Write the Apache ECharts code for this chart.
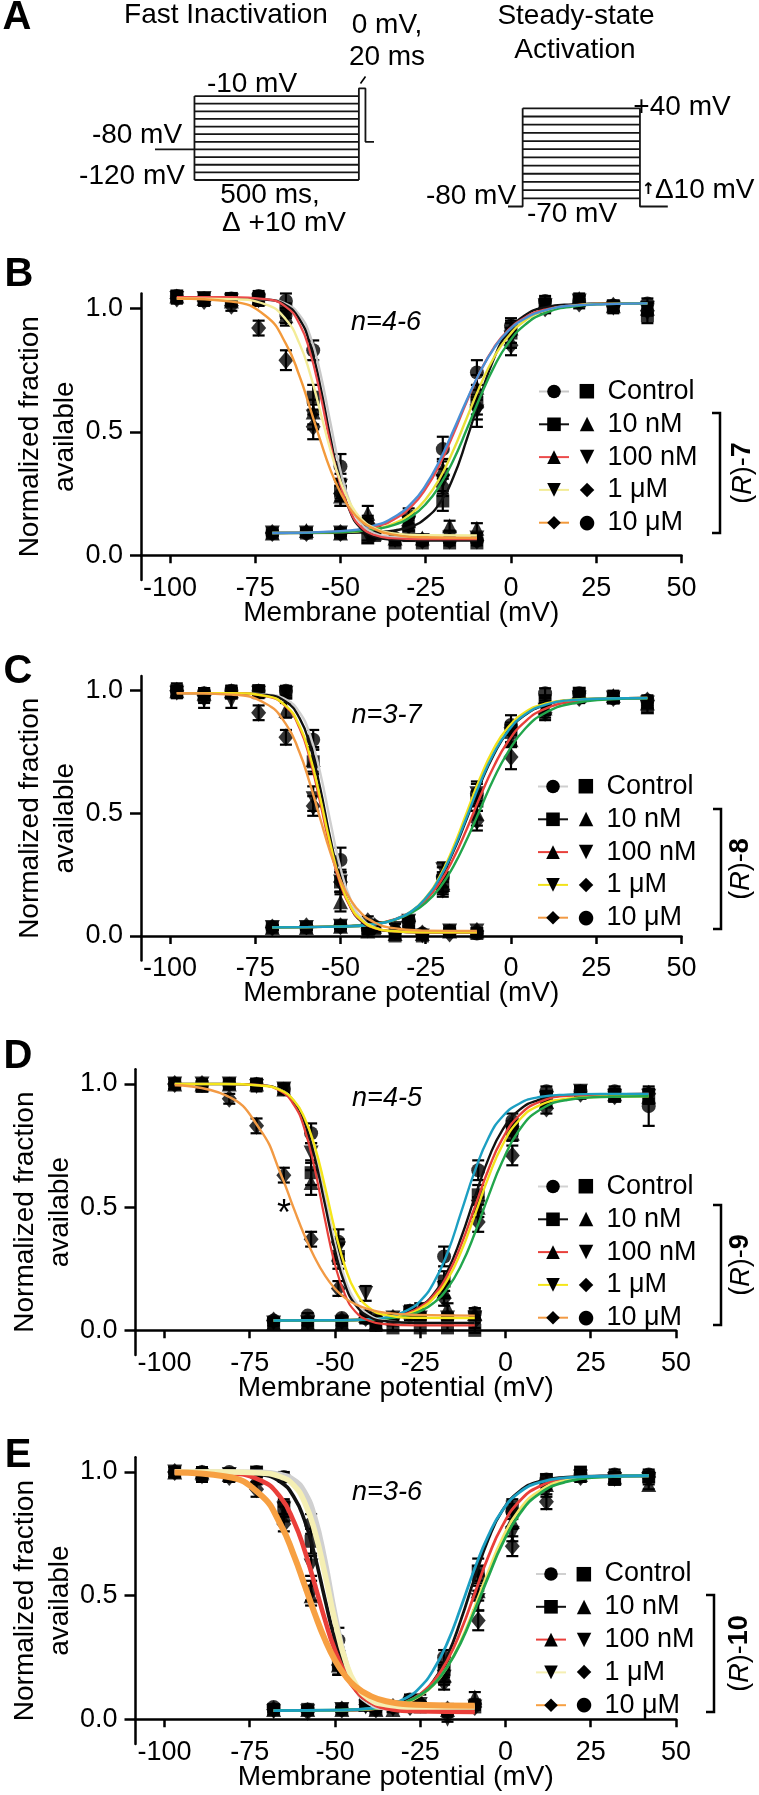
<!DOCTYPE html>
<html><head><meta charset="utf-8">
<script src="https://cdn.jsdelivr.net/npm/echarts@6/dist/echarts.min.js"></script>
<style>html,body{margin:0;padding:0;background:#fff}#c{width:759px;height:1795px}</style>
</head><body><div id="c"></div>
<script>
// ================= DATA =================
const concLabels = ['Control', '10 nM', '100 nM', '1 \u03bcM', '10 \u03bcM'];
const xTicks = [-100, -75, -50, -25, 0, 25, 50];
const yTicks = [0, 0.5, 1];

// Panel A voltage protocols (ms, mV)
const A_inTimes = [0, 120, 620, 640, 666];
const A_inHold = -80;
const A_inSteps = [-120, -110, -100, -90, -80, -70, -60, -50, -40, -30, -20, -10];
const A_inTest = 0;
const A_inAfter = -70;
const A_acTimes = [0, 50, 450, 545];
const A_acHold = -80;
const A_acSteps = [-70, -60, -50, -40, -30, -20, -10, 0, 10, 20, 30, 40];

// ---------- Panel B : (R)-7 ----------
const B_inX = [-98, -90, -82, -74, -66, -58, -50, -42, -34, -26, -18, -10];
const B_acX = [-70, -60, -50, -40, -30, -20, -10, 0, 10, 20, 30, 40];
const B_inCtrl = [1.05, 1.04, 1.04, 1.05, 1.03, 0.83, 0.36, 0.12, 0.07, 0.06, 0.06, 0.06];
const B_in10n = [1.05, 1.04, 1.04, 1.04, 0.99, 0.64, 0.26, 0.07, 0.05, 0.05, 0.05, 0.05];
const B_in100n = [1.05, 1.04, 1.03, 1.04, 0.97, 0.58, 0.24, 0.17, 0.07, 0.07, 0.12, 0.11];
const B_in1u = [1.04, 1.04, 1.03, 1.03, 0.96, 0.56, 0.28, 0.08, 0.06, 0.06, 0.07, 0.07];
const B_in10u = [1.04, 1.03, 1.01, 0.92, 0.79, 0.52, 0.25, 0.13, 0.07, 0.06, 0.06, 0.06];
const B_inCtrlE = [0.02, 0.02, 0.02, 0.02, 0.03, 0.04, 0.05, 0.03, 0.01, 0.01, 0.01, 0.01];
const B_in10nE = [0.02, 0.02, 0.02, 0.02, 0.03, 0.05, 0.04, 0.02, 0.01, 0.01, 0.01, 0.01];
const B_in100nE = [0.02, 0.02, 0.02, 0.02, 0.03, 0.05, 0.04, 0.03, 0.01, 0.01, 0.02, 0.02];
const B_in1uE = [0.02, 0.02, 0.02, 0.02, 0.03, 0.05, 0.05, 0.02, 0.01, 0.01, 0.01, 0.01];
const B_in10uE = [0.02, 0.02, 0.02, 0.03, 0.04, 0.05, 0.05, 0.03, 0.01, 0.01, 0.01, 0.01];
const B_acCtrl = [0.09, 0.09, 0.09, 0.08, 0.08, 0.22, 0.62, 0.90, 1.01, 1.03, 1.01, 0.97];
const B_ac10n = [0.09, 0.10, 0.09, 0.09, 0.14, 0.35, 0.68, 0.92, 1.02, 1.04, 1.01, 1.00];
const B_ac100n = [0.09, 0.09, 0.09, 0.09, 0.13, 0.30, 0.58, 0.88, 1.01, 1.03, 1.00, 1.00];
const B_ac1u = [0.09, 0.09, 0.09, 0.09, 0.12, 0.28, 0.60, 0.85, 1.00, 1.02, 1.01, 0.99];
const B_ac10u = [0.09, 0.09, 0.09, 0.10, 0.16, 0.43, 0.74, 0.93, 1.03, 1.03, 1.01, 1.02];
const B_acCtrlE = [0.01, 0.01, 0.01, 0.01, 0.02, 0.04, 0.05, 0.04, 0.02, 0.02, 0.02, 0.03];
const B_ac10nE = [0.01, 0.01, 0.01, 0.01, 0.02, 0.04, 0.05, 0.03, 0.02, 0.02, 0.02, 0.02];
const B_ac100nE = [0.01, 0.01, 0.01, 0.01, 0.02, 0.05, 0.06, 0.04, 0.02, 0.02, 0.02, 0.02];
const B_ac1uE = [0.01, 0.01, 0.01, 0.01, 0.02, 0.04, 0.05, 0.04, 0.02, 0.02, 0.02, 0.02];
const B_ac10uE = [0.01, 0.01, 0.01, 0.01, 0.03, 0.05, 0.05, 0.03, 0.02, 0.02, 0.02, 0.02];
// fitted curves
const B_cInX = [-98, -82, -72, -66, -62, -59, -56, -53, -50, -47, -44, -40, -35, -26, -10];
const B_cAcX = [-70, -50, -40, -34, -29, -25, -21, -17, -13, -9, -5, -1, 4, 10, 18, 28, 40];
const B_fitInCtrl = [1.04, 1.04, 1.036, 1.018, 0.972, 0.892, 0.743, 0.540, 0.342, 0.205, 0.130, 0.089, 0.075, 0.070, 0.070];
const B_fitIn10n = [1.04, 1.04, 1.035, 1.012, 0.955, 0.857, 0.690, 0.479, 0.290, 0.171, 0.109, 0.076, 0.064, 0.060, 0.060];
const B_fitIn100n = [1.045, 1.045, 1.037, 1.006, 0.936, 0.826, 0.656, 0.454, 0.284, 0.174, 0.115, 0.082, 0.069, 0.065, 0.065];
const B_fitIn1u = [1.04, 1.037, 1.016, 0.955, 0.856, 0.739, 0.586, 0.429, 0.299, 0.206, 0.149, 0.110, 0.090, 0.081, 0.080];
const B_fitIn10u = [1.04, 1.027, 0.970, 0.856, 0.725, 0.599, 0.469, 0.348, 0.254, 0.185, 0.140, 0.106, 0.085, 0.073, 0.070];
const B_fitAcCtrl = [0.09, 0.091, 0.094, 0.101, 0.118, 0.150, 0.209, 0.313, 0.468, 0.642, 0.797, 0.901, 0.971, 1.004, 1.016, 1.02, 1.02];
const B_fitAc10n = [0.09, 0.096, 0.115, 0.148, 0.201, 0.270, 0.366, 0.488, 0.622, 0.744, 0.841, 0.909, 0.962, 0.995, 1.012, 1.018, 1.02];
const B_fitAc100n = [0.09, 0.094, 0.107, 0.131, 0.171, 0.227, 0.309, 0.422, 0.555, 0.688, 0.801, 0.883, 0.949, 0.989, 1.011, 1.018, 1.02];
const B_fitAc1u = [0.09, 0.094, 0.105, 0.124, 0.159, 0.207, 0.280, 0.382, 0.509, 0.642, 0.762, 0.855, 0.932, 0.981, 1.007, 1.017, 1.02];
const B_fitAc10u = [0.09, 0.098, 0.121, 0.157, 0.213, 0.284, 0.382, 0.502, 0.628, 0.744, 0.838, 0.906, 0.958, 0.992, 1.011, 1.017, 1.02];

// ---------- Panel C : (R)-8 ----------
const C_inX = [-98, -90, -82, -74, -66, -58, -50, -42, -34, -26, -18, -10];
const C_acX = [-70, -60, -50, -40, -30, -20, -10, 0, 10, 20, 30, 40];
const C_inCtrl = [1.0, 0.99, 1.0, 1.0, 1.0, 0.80, 0.31, 0.03, 0.02, 0.01, 0.02, 0.01];
const C_in10n = [1.0, 0.98, 0.99, 1.0, 0.99, 0.71, 0.22, 0.03, 0.00, 0.00, 0.02, 0.01];
const C_in100n = [1.0, 0.99, 1.0, 1.0, 0.92, 0.72, 0.14, 0.02, 0.01, 0.01, 0.02, 0.02];
const C_in1u = [0.99, 0.96, 0.96, 0.99, 0.99, 0.56, 0.22, 0.02, 0.03, 0.00, 0.02, 0.02];
const C_in10u = [1.0, 0.98, 0.99, 0.91, 0.81, 0.53, 0.22, 0.06, 0.02, 0.01, 0.01, 0.02];
const C_inCtrlE = [0.02, 0.02, 0.02, 0.02, 0.02, 0.04, 0.05, 0.01, 0.01, 0.01, 0.01, 0.01];
const C_in10nE = [0.03, 0.03, 0.02, 0.02, 0.02, 0.05, 0.04, 0.01, 0.01, 0.01, 0.01, 0.01];
const C_in100nE = [0.02, 0.02, 0.02, 0.02, 0.03, 0.05, 0.04, 0.01, 0.01, 0.01, 0.01, 0.01];
const C_in1uE = [0.02, 0.03, 0.03, 0.02, 0.02, 0.05, 0.05, 0.01, 0.02, 0.01, 0.01, 0.01];
const C_in10uE = [0.02, 0.02, 0.02, 0.03, 0.03, 0.04, 0.04, 0.02, 0.01, 0.01, 0.01, 0.01];
const C_acCtrl = [0.035, 0.035, 0.04, 0.03, 0.05, 0.22, 0.55, 0.83, 0.96, 0.99, 0.97, 0.93];
const C_ac10n = [0.035, 0.035, 0.04, 0.04, 0.05, 0.21, 0.50, 0.80, 0.93, 0.98, 0.98, 0.95];
const C_ac100n = [0.035, 0.035, 0.04, 0.03, 0.06, 0.27, 0.58, 0.82, 0.92, 0.97, 0.97, 0.95];
const C_ac1u = [0.035, 0.04, 0.04, 0.04, 0.06, 0.19, 0.47, 0.73, 0.91, 0.97, 0.97, 0.96];
const C_ac10u = [0.035, 0.035, 0.04, 0.04, 0.06, 0.24, 0.58, 0.86, 0.99, 0.99, 0.97, 0.96];
const C_acCtrlE = [0.01, 0.01, 0.01, 0.01, 0.02, 0.04, 0.04, 0.04, 0.02, 0.02, 0.02, 0.02];
const C_ac10nE = [0.01, 0.01, 0.01, 0.01, 0.02, 0.04, 0.05, 0.03, 0.03, 0.02, 0.02, 0.02];
const C_ac100nE = [0.01, 0.01, 0.01, 0.01, 0.02, 0.03, 0.05, 0.04, 0.03, 0.02, 0.02, 0.02];
const C_ac1uE = [0.01, 0.01, 0.01, 0.01, 0.02, 0.03, 0.04, 0.05, 0.03, 0.02, 0.02, 0.02];
const C_ac10uE = [0.01, 0.01, 0.01, 0.01, 0.02, 0.04, 0.04, 0.04, 0.02, 0.02, 0.02, 0.02];
const C_cInX = [-98, -82, -72, -66, -62, -59, -56, -53, -50, -47, -44, -40, -35, -26, -10];
const C_cAcX = [-70, -50, -40, -34, -29, -25, -21, -17, -13, -9, -5, -1, 4, 10, 18, 28, 40];
const C_fitInCtrl = [0.99, 0.99, 0.985, 0.964, 0.911, 0.822, 0.668, 0.468, 0.277, 0.147, 0.075, 0.035, 0.020, 0.015, 0.015];
const C_fitIn10n = [0.99, 0.99, 0.983, 0.955, 0.888, 0.779, 0.606, 0.399, 0.226, 0.117, 0.061, 0.031, 0.019, 0.015, 0.015];
const C_fitIn100n = [0.99, 0.99, 0.978, 0.935, 0.847, 0.722, 0.546, 0.358, 0.209, 0.114, 0.063, 0.032, 0.020, 0.015, 0.015];
const C_fitIn1u = [0.99, 0.99, 0.979, 0.938, 0.856, 0.737, 0.566, 0.377, 0.221, 0.120, 0.067, 0.033, 0.020, 0.015, 0.015];
const C_fitIn10u = [0.99, 0.984, 0.948, 0.864, 0.748, 0.623, 0.481, 0.342, 0.228, 0.146, 0.094, 0.055, 0.033, 0.022, 0.020];
const C_fitAcCtrl = [0.035, 0.038, 0.048, 0.067, 0.101, 0.152, 0.229, 0.341, 0.477, 0.619, 0.740, 0.831, 0.900, 0.941, 0.962, 0.968, 0.97];
const C_fitAc10n = [0.035, 0.039, 0.050, 0.069, 0.101, 0.146, 0.215, 0.313, 0.435, 0.570, 0.692, 0.790, 0.872, 0.926, 0.955, 0.966, 0.97];
const C_fitAc100n = [0.035, 0.038, 0.048, 0.067, 0.103, 0.157, 0.240, 0.359, 0.503, 0.646, 0.765, 0.848, 0.911, 0.947, 0.963, 0.968, 0.97];
const C_fitAc1u = [0.035, 0.039, 0.049, 0.067, 0.096, 0.135, 0.195, 0.281, 0.392, 0.518, 0.643, 0.747, 0.843, 0.909, 0.948, 0.964, 0.969];
const C_fitAc10u = [0.035, 0.038, 0.048, 0.068, 0.103, 0.155, 0.234, 0.347, 0.484, 0.626, 0.746, 0.833, 0.902, 0.942, 0.962, 0.968, 0.97];

// ---------- Panel D : (R)-9 ----------
const D_inX = [-97, -89, -81, -73, -65, -57, -49, -41, -33, -25, -17, -9];
const D_acX = [-68, -58, -48, -38, -28, -18, -8, 2, 12, 22, 32, 42];
const D_inCtrl = [1.0, 1.0, 1.0, 1.0, 0.98, 0.80, 0.36, 0.05, 0.05, 0.05, 0.05, 0.07];
const D_in10n = [1.0, 0.99, 1.0, 1.0, 0.98, 0.64, 0.30, 0.05, 0.01, 0.01, 0.01, 0.00];
const D_in100n = [1.0, 1.0, 1.0, 1.0, 0.98, 0.60, 0.31, 0.06, 0.05, 0.09, 0.09, 0.07];
const D_in1u = [1.0, 1.0, 1.0, 0.99, 0.98, 0.72, 0.33, 0.15, 0.05, 0.05, 0.05, 0.05];
const D_in10u = [1.0, 1.0, 0.94, 0.83, 0.63, 0.37, 0.17, 0.05, 0.05, 0.05, 0.05, 0.04];
const D_inCtrlE = [0.02, 0.02, 0.01, 0.01, 0.02, 0.04, 0.05, 0.02, 0.01, 0.01, 0.01, 0.02];
const D_in10nE = [0.02, 0.02, 0.02, 0.02, 0.02, 0.05, 0.05, 0.01, 0.01, 0.01, 0.01, 0.01];
const D_in100nE = [0.02, 0.02, 0.02, 0.02, 0.02, 0.05, 0.04, 0.02, 0.02, 0.02, 0.02, 0.02];
const D_in1uE = [0.02, 0.02, 0.02, 0.02, 0.02, 0.04, 0.04, 0.03, 0.01, 0.01, 0.01, 0.01];
const D_in10uE = [0.02, 0.02, 0.02, 0.03, 0.03, 0.03, 0.03, 0.01, 0.01, 0.01, 0.01, 0.01];
const D_acCtrl = [0.03, 0.03, 0.03, 0.02, 0.07, 0.20, 0.55, 0.82, 0.95, 0.97, 0.95, 0.95];
const D_ac10n = [0.03, 0.03, 0.03, 0.03, 0.08, 0.16, 0.50, 0.80, 0.93, 0.97, 0.96, 0.95];
const D_ac100n = [0.03, 0.03, 0.03, 0.03, 0.07, 0.17, 0.50, 0.80, 0.94, 0.97, 0.95, 0.95];
const D_ac1u = [0.04, 0.04, 0.04, 0.03, 0.06, 0.13, 0.44, 0.71, 0.90, 0.96, 0.95, 0.96];
const D_ac10u = [0.04, 0.06, 0.05, 0.05, 0.08, 0.30, 0.65, 0.85, 0.97, 0.97, 0.97, 0.91];
const D_acCtrlE = [0.01, 0.01, 0.01, 0.01, 0.02, 0.04, 0.04, 0.03, 0.02, 0.02, 0.02, 0.03];
const D_ac10nE = [0.01, 0.01, 0.01, 0.01, 0.02, 0.03, 0.04, 0.03, 0.02, 0.02, 0.02, 0.03];
const D_ac100nE = [0.01, 0.01, 0.01, 0.01, 0.02, 0.03, 0.04, 0.03, 0.02, 0.02, 0.02, 0.02];
const D_ac1uE = [0.01, 0.01, 0.01, 0.01, 0.02, 0.03, 0.04, 0.04, 0.02, 0.02, 0.02, 0.02];
const D_ac10uE = [0.01, 0.01, 0.01, 0.01, 0.02, 0.04, 0.04, 0.03, 0.02, 0.02, 0.02, 0.08];
const D_cInX = [-97, -82, -72, -66, -62, -59, -56, -53, -50, -47, -44, -40, -35, -26, -9];
const D_cAcX = [-68, -50, -40, -34, -29, -25, -21, -17, -13, -9, -5, -1, 4, 10, 18, 28, 42];
const D_fitInCtrl = [1.0, 1.0, 0.995, 0.976, 0.931, 0.857, 0.729, 0.549, 0.356, 0.208, 0.118, 0.062, 0.039, 0.030, 0.030];
const D_fitIn10n = [1.0, 1.0, 0.995, 0.975, 0.926, 0.847, 0.705, 0.515, 0.325, 0.183, 0.104, 0.055, 0.037, 0.030, 0.030];
const D_fitIn100n = [1.0, 1.0, 0.995, 0.971, 0.914, 0.820, 0.659, 0.454, 0.267, 0.143, 0.076, 0.039, 0.025, 0.020, 0.020];
const D_fitIn1u = [1.0, 1.0, 0.994, 0.975, 0.932, 0.864, 0.750, 0.587, 0.406, 0.257, 0.158, 0.092, 0.062, 0.051, 0.050];
const D_fitIn10u = [0.995, 0.954, 0.816, 0.638, 0.492, 0.387, 0.297, 0.224, 0.169, 0.131, 0.106, 0.085, 0.071, 0.063, 0.060];
const D_fitAcCtrl = [0.04, 0.041, 0.044, 0.052, 0.069, 0.096, 0.149, 0.241, 0.377, 0.541, 0.696, 0.811, 0.894, 0.936, 0.954, 0.958, 0.96];
const D_fitAc10n = [0.04, 0.041, 0.044, 0.052, 0.069, 0.095, 0.143, 0.225, 0.347, 0.500, 0.653, 0.775, 0.872, 0.927, 0.952, 0.958, 0.96];
const D_fitAc100n = [0.04, 0.041, 0.044, 0.051, 0.065, 0.088, 0.132, 0.206, 0.320, 0.468, 0.621, 0.749, 0.853, 0.913, 0.940, 0.948, 0.95];
const D_fitAc1u = [0.04, 0.041, 0.043, 0.049, 0.060, 0.078, 0.112, 0.171, 0.264, 0.394, 0.545, 0.683, 0.812, 0.894, 0.935, 0.947, 0.95];
const D_fitAc10u = [0.04, 0.041, 0.045, 0.056, 0.080, 0.119, 0.195, 0.315, 0.480, 0.646, 0.781, 0.866, 0.920, 0.947, 0.957, 0.96, 0.96];

// ---------- Panel E : (R)-10 ----------
const E_inX = [-97, -89, -81, -73, -65, -57, -49, -41, -33, -25, -17, -9];
const E_acX = [-68, -58, -48, -38, -28, -18, -8, 2, 12, 22, 32, 42];
const E_inCtrl = [1.0, 1.0, 1.0, 1.0, 0.98, 0.79, 0.32, 0.07, 0.05, 0.06, 0.04, 0.06];
const E_in10n = [1.0, 0.99, 0.99, 1.0, 0.86, 0.72, 0.22, 0.06, 0.05, 0.05, 0.04, 0.05];
const E_in100n = [1.0, 1.0, 0.99, 0.98, 0.83, 0.50, 0.22, 0.06, 0.04, 0.08, 0.04, 0.09];
const E_in1u = [1.0, 0.98, 0.99, 0.97, 0.85, 0.62, 0.25, 0.05, 0.04, 0.06, 0.00, 0.05];
const E_in10u = [1.0, 0.99, 0.98, 0.93, 0.79, 0.52, 0.22, 0.06, 0.05, 0.06, 0.04, 0.05];
const E_inCtrlE = [0.02, 0.01, 0.01, 0.01, 0.02, 0.04, 0.05, 0.02, 0.01, 0.01, 0.01, 0.02];
const E_in10nE = [0.02, 0.02, 0.01, 0.02, 0.03, 0.05, 0.04, 0.01, 0.01, 0.01, 0.01, 0.01];
const E_in100nE = [0.02, 0.02, 0.02, 0.02, 0.03, 0.04, 0.04, 0.01, 0.01, 0.02, 0.01, 0.02];
const E_in1uE = [0.02, 0.02, 0.02, 0.02, 0.03, 0.04, 0.04, 0.01, 0.01, 0.01, 0.01, 0.01];
const E_in10uE = [0.02, 0.02, 0.02, 0.03, 0.03, 0.04, 0.04, 0.02, 0.01, 0.01, 0.01, 0.01];
const E_acCtrl = [0.04, 0.04, 0.04, 0.04, 0.07, 0.20, 0.60, 0.86, 0.97, 1.00, 0.97, 0.98];
const E_ac10n = [0.04, 0.04, 0.04, 0.04, 0.07, 0.18, 0.52, 0.80, 0.95, 0.99, 0.98, 0.95];
const E_ac100n = [0.03, 0.03, 0.04, 0.04, 0.06, 0.17, 0.48, 0.75, 0.92, 0.98, 0.97, 0.97];
const E_ac1u = [0.04, 0.03, 0.04, 0.04, 0.05, 0.15, 0.40, 0.70, 0.88, 0.98, 0.98, 0.98];
const E_ac10u = [0.05, 0.04, 0.04, 0.05, 0.08, 0.25, 0.58, 0.84, 0.97, 0.99, 0.99, 0.99];
const E_acCtrlE = [0.01, 0.01, 0.01, 0.01, 0.02, 0.03, 0.05, 0.03, 0.02, 0.02, 0.02, 0.02];
const E_ac10nE = [0.01, 0.01, 0.01, 0.01, 0.02, 0.03, 0.04, 0.03, 0.02, 0.02, 0.02, 0.02];
const E_ac100nE = [0.01, 0.01, 0.01, 0.01, 0.02, 0.03, 0.04, 0.03, 0.02, 0.02, 0.02, 0.02];
const E_ac1uE = [0.01, 0.01, 0.01, 0.01, 0.02, 0.03, 0.04, 0.04, 0.03, 0.02, 0.02, 0.02];
const E_ac10uE = [0.01, 0.01, 0.01, 0.01, 0.02, 0.03, 0.04, 0.03, 0.02, 0.02, 0.02, 0.02];
const E_cInX = [-97, -82, -72, -66, -62, -59, -56, -53, -50, -47, -44, -40, -35, -26, -9];
const E_cAcX = [-68, -50, -40, -34, -29, -25, -21, -17, -13, -9, -5, -1, 4, 10, 18, 28, 42];
const E_fitInCtrl = [1.0, 1.0, 0.999, 0.990, 0.967, 0.921, 0.820, 0.644, 0.423, 0.240, 0.129, 0.068, 0.046, 0.040, 0.040];
const E_fitIn10n = [1.0, 0.999, 0.990, 0.960, 0.898, 0.807, 0.666, 0.489, 0.321, 0.197, 0.122, 0.072, 0.050, 0.041, 0.040];
const E_fitIn100n = [1.0, 0.995, 0.967, 0.898, 0.798, 0.687, 0.549, 0.405, 0.279, 0.185, 0.121, 0.074, 0.046, 0.033, 0.030];
const E_fitIn1u = [1.0, 1.0, 0.996, 0.981, 0.945, 0.880, 0.764, 0.591, 0.396, 0.239, 0.143, 0.083, 0.059, 0.050, 0.050];
const E_fitIn10u = [0.998, 0.982, 0.910, 0.789, 0.661, 0.546, 0.430, 0.324, 0.239, 0.176, 0.132, 0.097, 0.073, 0.059, 0.055];
const E_fitAcCtrl = [0.035, 0.036, 0.039, 0.048, 0.067, 0.099, 0.158, 0.258, 0.405, 0.574, 0.729, 0.842, 0.921, 0.963, 0.979, 0.984, 0.985];
const E_fitAc10n = [0.035, 0.036, 0.041, 0.052, 0.071, 0.102, 0.155, 0.240, 0.361, 0.510, 0.659, 0.780, 0.881, 0.942, 0.973, 0.982, 0.985];
const E_fitAc100n = [0.035, 0.036, 0.041, 0.051, 0.068, 0.096, 0.140, 0.214, 0.320, 0.456, 0.599, 0.729, 0.846, 0.924, 0.967, 0.981, 0.985];
const E_fitAc1u = [0.035, 0.037, 0.042, 0.053, 0.071, 0.098, 0.142, 0.213, 0.313, 0.442, 0.578, 0.707, 0.828, 0.913, 0.961, 0.979, 0.985];
const E_fitAc10u = [0.035, 0.037, 0.044, 0.059, 0.087, 0.130, 0.203, 0.311, 0.456, 0.611, 0.744, 0.843, 0.917, 0.958, 0.977, 0.983, 0.985];

// ================= STYLE / LAYOUT =================
const FONT = '"Liberation Sans", Arial, Helvetica, sans-serif';
const ITRI = 'path://M0,0L10,0L5,9Z';
const inSym = ['circle', 'rect', 'triangle', ITRI, 'diamond'];
const inSize = [14, 13, 15, 15, [15, 18]];
const acSym = ['rect', 'triangle', ITRI, 'diamond', 'circle'];
const acSize = [13, 15, 15, [15, 18], 14];
const acGlyph = ['\u25A0', '\u25B2', '\u25BC', '\u25C6', '\u25CF'];
const SMOOTH = 0.5;

const panels = [
  { id: 'B', tag: '7', grid: { left: 141, top: 293.5, width: 540.5, height: 286.5 },
    inX: B_inX, acX: B_acX, inY: [B_inCtrl, B_in10n, B_in100n, B_in1u, B_in10u],
    inE: [B_inCtrlE, B_in10nE, B_in100nE, B_in1uE, B_in10uE],
    acY: [B_acCtrl, B_ac10n, B_ac100n, B_ac1u, B_ac10u],
    acE: [B_acCtrlE, B_ac10nE, B_ac100nE, B_ac1uE, B_ac10uE],
    cInX: B_cInX, cAcX: B_cAcX,
    fitIn: [B_fitInCtrl, B_fitIn10n, B_fitIn100n, B_fitIn1u, B_fitIn10u],
    fitAc: [B_fitAcCtrl, B_fitAc10n, B_fitAc100n, B_fitAc1u, B_fitAc10u],
    inCol: ['#c8c8c8', '#111111', '#ec4b4b', '#f3ec98', '#f39a3b'],
    acCol: ['#111111', '#ec4b4b', '#e9e03a', '#22a64c', '#4a90d6'],
    inW: [2.4, 2.4, 2.2, 2.4, 2.4], acW: 2.4,
    legend: { left: 538, top: 376.5 }, bracket: { x: 720, top: 413, bottom: 533, tx: 743 },
    n: { text: 'n=4-6', x: 386, y: 322 }, letter: { x: 19, y: 275 } },
  { id: 'C', tag: '8', grid: { left: 141, top: 676, width: 540.5, height: 284.5 },
    inX: C_inX, acX: C_acX, inY: [C_inCtrl, C_in10n, C_in100n, C_in1u, C_in10u],
    inE: [C_inCtrlE, C_in10nE, C_in100nE, C_in1uE, C_in10uE],
    acY: [C_acCtrl, C_ac10n, C_ac100n, C_ac1u, C_ac10u],
    acE: [C_acCtrlE, C_ac10nE, C_ac100nE, C_ac1uE, C_ac10uE],
    cInX: C_cInX, cAcX: C_cAcX,
    fitIn: [C_fitInCtrl, C_fitIn10n, C_fitIn100n, C_fitIn1u, C_fitIn10u],
    fitAc: [C_fitAcCtrl, C_fitAc10n, C_fitAc100n, C_fitAc1u, C_fitAc10u],
    inCol: ['#cfcfcf', '#111111', '#e8403a', '#f2e21b', '#f29a44'],
    acCol: ['#111111', '#e8403a', '#f2e21b', '#22a64c', '#1c9fc2'],
    inW: [2.4, 2.4, 2.2, 2.4, 2.4], acW: 2.4,
    legend: { left: 537, top: 771.5 }, bracket: { x: 721, top: 809, bottom: 929, tx: 741 },
    n: { text: 'n=3-7', x: 386.5, y: 715 }, letter: { x: 18, y: 672 } },
  { id: 'D', tag: '9', grid: { left: 135.5, top: 1069.2, width: 540.5, height: 285.8 },
    inX: D_inX, acX: D_acX, inY: [D_inCtrl, D_in10n, D_in100n, D_in1u, D_in10u],
    inE: [D_inCtrlE, D_in10nE, D_in100nE, D_in1uE, D_in10uE],
    acY: [D_acCtrl, D_ac10n, D_ac100n, D_ac1u, D_ac10u],
    acE: [D_acCtrlE, D_ac10nE, D_ac100nE, D_ac1uE, D_ac10uE],
    cInX: D_cInX, cAcX: D_cAcX,
    fitIn: [D_fitInCtrl, D_fitIn10n, D_fitIn100n, D_fitIn1u, D_fitIn10u],
    fitAc: [D_fitAcCtrl, D_fitAc10n, D_fitAc100n, D_fitAc1u, D_fitAc10u],
    inCol: ['#d2d2d2', '#111111', '#e8403a', '#f5e61a', '#f29a44'],
    acCol: ['#111111', '#e8403a', '#f2e21b', '#22a64c', '#1c9fc2'],
    inW: [2.4, 2.4, 2.2, 2.4, 2.4], acW: 2.4,
    legend: { left: 537, top: 1171.5 }, bracket: { x: 721, top: 1205, bottom: 1325, tx: 741 },
    n: { text: 'n=4-5', x: 387, y: 1098 }, letter: { x: 18, y: 1057 } },
  { id: 'E', tag: '10', grid: { left: 135.5, top: 1457.2, width: 540.5, height: 286.8 },
    inX: E_inX, acX: E_acX, inY: [E_inCtrl, E_in10n, E_in100n, E_in1u, E_in10u],
    inE: [E_inCtrlE, E_in10nE, E_in100nE, E_in1uE, E_in10uE],
    acY: [E_acCtrl, E_ac10n, E_ac100n, E_ac1u, E_ac10u],
    acE: [E_acCtrlE, E_ac10nE, E_ac100nE, E_ac1uE, E_ac10uE],
    cInX: E_cInX, cAcX: E_cAcX,
    fitIn: [E_fitInCtrl, E_fitIn10n, E_fitIn100n, E_fitIn1u, E_fitIn10u],
    fitAc: [E_fitAcCtrl, E_fitAc10n, E_fitAc100n, E_fitAc1u, E_fitAc10u],
    inCol: ['#d0d0d0', '#111111', '#ea3f3a', '#f5efb3', '#f7a042'],
    acCol: ['#111111', '#ea3f3a', '#f2e46a', '#22a64c', '#1c9fc2'],
    inW: [5.5, 3.6, 4.6, 5.5, 6], acW: 2.8,
    legend: { left: 535, top: 1559 }, bracket: { x: 714, top: 1595, bottom: 1712, tx: 740 },
    n: { text: 'n=3-6', x: 387, y: 1492 }, letter: { x: 18, y: 1456 } }
];

// ================= BUILD =================
const grids = [
  { left: 155, top: 88.4, width: 219, height: 91.6, outerBoundsMode: 'none' },
  { left: 508, top: 108.3, width: 159.8, height: 98.2, outerBoundsMode: 'none' }
];
const xAxes = [
  { type: 'value', gridIndex: 0, min: A_inTimes[0], max: A_inTimes[4], show: false },
  { type: 'value', gridIndex: 1, min: A_acTimes[0], max: A_acTimes[3], show: false }
];
const yAxes = [
  { type: 'value', gridIndex: 0, min: Math.min(...A_inSteps), max: A_inTest, show: false },
  { type: 'value', gridIndex: 1, min: A_acHold, max: Math.max(...A_acSteps), show: false }
];
const series = [];
const legends = [];
const graphics = [];

function protoLine(pts, gi) {
  return { type: 'line', xAxisIndex: gi, yAxisIndex: gi, data: pts, symbol: 'none', clip: false,
    silent: true, lineStyle: { color: '#151515', width: 1.8 }, z: 2 };
}
// Fast-inactivation protocol
const inLo = Math.min(...A_inSteps), inHi = Math.max(...A_inSteps);
series.push(protoLine([[A_inTimes[0], A_inHold], [A_inTimes[1], A_inHold]], 0));
series.push(protoLine([[A_inTimes[1], inLo], [A_inTimes[1], inHi]], 0));
A_inSteps.forEach(v => series.push(protoLine([[A_inTimes[1], v], [A_inTimes[2], v]], 0)));
series.push(protoLine([[A_inTimes[2], inLo], [A_inTimes[2], A_inTest], [A_inTimes[3], A_inTest],
  [A_inTimes[3], A_inAfter], [A_inTimes[4], A_inAfter]], 0));
// Steady-state activation protocol
const acHi = Math.max(...A_acSteps);
series.push(protoLine([[A_acTimes[0], A_acHold], [A_acTimes[1], A_acHold], [A_acTimes[1], acHi]], 1));
A_acSteps.forEach(v => series.push(protoLine([[A_acTimes[1], v], [A_acTimes[2], v]], 1)));
series.push(protoLine([[A_acTimes[2], acHi], [A_acTimes[2], A_acHold], [A_acTimes[3], A_acHold]], 1));

function renderErr(params, api) {
  const x = api.value(0), y = api.value(1), e = api.value(2);
  if (!e) return null;
  const top = api.coord([x, y + e]);
  const bot = api.coord([x, y - e]);
  const c = 6;
  const st = { stroke: '#000', lineWidth: 2.2 };
  return { type: 'group', children: [
    { type: 'line', shape: { x1: top[0], y1: top[1], x2: bot[0], y2: bot[1] }, style: st },
    { type: 'line', shape: { x1: top[0] - c, y1: top[1], x2: top[0] + c, y2: top[1] }, style: st },
    { type: 'line', shape: { x1: bot[0] - c, y1: bot[1], x2: bot[0] + c, y2: bot[1] }, style: st }
  ] };
}

panels.forEach((p, k) => {
  const gi = k + 2;
  grids.push(Object.assign({ outerBoundsMode: 'none' }, p.grid));
  xAxes.push({ type: 'value', gridIndex: gi, min: -108.5, max: 50,
    name: 'Membrane potential (mV)', nameLocation: 'middle', nameGap: 19, nameMoveOverlap: false,
    nameTextStyle: { fontSize: 28, fontFamily: FONT, color: '#000', padding: [0, 20, 0, 0] },
    axisLine: { show: true, onZero: true, lineStyle: { color: '#000', width: 2.5 } },
    axisTick: { show: true, inside: false, length: 8, customValues: xTicks, lineStyle: { color: '#000', width: 2.5 } },
    axisLabel: { show: true, customValues: xTicks, fontSize: 27, fontFamily: FONT, color: '#000', margin: -5 },
    splitLine: { show: false } });
  yAxes.push({ type: 'value', gridIndex: gi, min: -0.1, max: 1.06,
    name: 'Normalized fraction\navailable', nameLocation: 'middle', nameGap: 58, nameRotate: 90, nameMoveOverlap: false,
    nameTextStyle: { fontSize: 28, fontFamily: FONT, color: '#000', lineHeight: 35 },
    axisLine: { show: true, onZero: false, lineStyle: { color: '#000', width: 2.5 } },
    axisTick: { show: true, inside: false, length: 11, customValues: yTicks, lineStyle: { color: '#000', width: 2.5 } },
    axisLabel: { show: true, customValues: yTicks, formatter: v => v.toFixed(1), fontSize: 27, fontFamily: FONT, color: '#000', margin: 18 },
    splitLine: { show: false } });

  const errData = [];
  p.inY.forEach((vals, i) => {
    series.push({ type: 'scatter', xAxisIndex: gi, yAxisIndex: gi, symbol: inSym[i], symbolSize: inSize[i],
      itemStyle: { color: '#000' }, data: p.inX.map((x, j) => [x, vals[j]]), z: 3, silent: true });
    p.inX.forEach((x, j) => errData.push([x, vals[j], p.inE[i][j]]));
  });
  p.acY.forEach((vals, i) => {
    series.push({ type: 'scatter', xAxisIndex: gi, yAxisIndex: gi, symbol: acSym[i], symbolSize: acSize[i],
      itemStyle: { color: '#000' }, data: p.acX.map((x, j) => [x, vals[j]]), z: 3, silent: true });
    p.acX.forEach((x, j) => errData.push([x, vals[j], p.acE[i][j]]));
  });
  series.push({ type: 'custom', xAxisIndex: gi, yAxisIndex: gi, renderItem: renderErr, data: errData, z: 2, silent: true,
    encode: { x: 0, y: 1 } });

  p.fitAc.forEach((vals, i) => {
    series.push({ type: 'line', xAxisIndex: gi, yAxisIndex: gi, symbol: 'none', smooth: SMOOTH,
      data: p.cAcX.map((x, j) => [x, vals[j]]), lineStyle: { color: p.acCol[i], width: p.acW }, z: 4, silent: true });
  });
  p.fitIn.forEach((vals, i) => {
    series.push({ type: 'line', name: p.id + '|' + concLabels[i], xAxisIndex: gi, yAxisIndex: gi,
      symbol: inSym[i], showSymbol: false, smooth: SMOOTH,
      itemStyle: { color: '#000' }, data: p.cInX.map((x, j) => [x, vals[j]]),
      lineStyle: { color: p.inCol[i], width: p.inW[i] }, z: 5, silent: true });
  });

  legends.push({ left: p.legend.left, top: p.legend.top, orient: 'vertical', padding: 0,
    itemWidth: 30, itemHeight: 17, itemGap: 2.8, selectedMode: false,
    data: concLabels.map(l => p.id + '|' + l),
    formatter: name => { const l = name.split('|')[1]; return '{m|' + acGlyph[concLabels.indexOf(l)] + '} ' + l; },
    textStyle: { fontSize: 27, fontFamily: FONT, color: '#000', lineHeight: 30,
      rich: { m: { fontSize: 19, fontFamily: '"DejaVu Sans", sans-serif', width: 26, align: 'center', color: '#000', lineHeight: 30 } } } });

  const b = p.bracket;
  graphics.push({ type: 'polyline', silent: true, z: 50,
    shape: { points: [[b.x - 8, b.top], [b.x, b.top], [b.x, b.bottom], [b.x - 8, b.bottom]] },
    style: { stroke: '#000', lineWidth: 2.5, fill: null } });
  graphics.push({ type: 'text', x: b.tx, y: (b.top + b.bottom) / 2, rotation: Math.PI / 2, silent: true, z: 50,
    style: { text: '({i|R})-{b|' + p.tag + '}', fill: '#000', fontFamily: FONT, fontSize: 27, align: 'center', verticalAlign: 'middle',
      rich: { i: { fontStyle: 'italic', fontSize: 27, fontFamily: FONT }, b: { fontWeight: 'bold', fontSize: 27, fontFamily: FONT } } } });
  graphics.push({ type: 'text', x: p.n.x, y: p.n.y, silent: true, z: 50,
    style: { text: p.n.text, fill: '#000', fontFamily: FONT, fontSize: 27, fontStyle: 'italic', align: 'center', verticalAlign: 'middle' } });
  graphics.push({ type: 'text', x: p.letter.x, y: p.letter.y, silent: true, z: 50,
    style: { text: p.id, fill: '#000', fontFamily: FONT, fontSize: 40, fontWeight: 'bold', align: 'center', verticalAlign: 'middle' } });
});

// Panel A texts
const aText = [
  ['Fast Inactivation', 226, 15], ['0 mV,', 387, 25], ['20 ms', 387, 57], ['-10 mV', 252, 84],
  ['-80 mV', 137, 135], ['-120 mV', 132, 176], ['500 ms,', 270, 195], ['\u0394 +10 mV', 284, 223],
  ['Steady-state', 576, 16], ['Activation', 575, 50], ['+40 mV', 682, 107], ['-80 mV', 471, 196],
  ['-70 mV', 572, 214]
];
aText.forEach(t => graphics.push({ type: 'text', x: t[1], y: t[2], silent: true, z: 50,
  style: { text: t[0], fill: '#000', fontFamily: FONT, fontSize: 28, align: 'center', verticalAlign: 'middle' } }));
graphics.push({ type: 'text', x: 698, y: 190, silent: true, z: 50,
  style: { text: '{a|\u2191}\u039410 mV', fill: '#000', fontFamily: FONT, fontSize: 28, align: 'center', verticalAlign: 'middle',
    rich: { a: { fontSize: 16, fontFamily: '"DejaVu Sans", sans-serif', fontWeight: 'bold' } } } });
graphics.push({ type: 'text', x: 17, y: 18, silent: true, z: 50,
  style: { text: 'A', fill: '#000', fontFamily: FONT, fontSize: 40, fontWeight: 'bold', align: 'center', verticalAlign: 'middle' } });
graphics.push({ type: 'line', silent: true, z: 50, shape: { x1: 365.5, y1: 76.5, x2: 360.5, y2: 83.5 },
  style: { stroke: '#000', lineWidth: 1.6 } });
// significance asterisk, panel D
graphics.push({ type: 'text', x: 284, y: 1215, silent: true, z: 50,
  style: { text: '*', fill: '#000', fontFamily: FONT, fontSize: 36, align: 'center', verticalAlign: 'middle' } });

const chart = echarts.init(document.getElementById('c'), null, { renderer: 'canvas', width: 759, height: 1795 });
chart.setOption({
  backgroundColor: '#ffffff',
  animation: false,
  grid: grids,
  xAxis: xAxes,
  yAxis: yAxes,
  legend: legends,
  tooltip: { show: false },
  series: series,
  graphic: graphics
});
</script>
</body></html>
